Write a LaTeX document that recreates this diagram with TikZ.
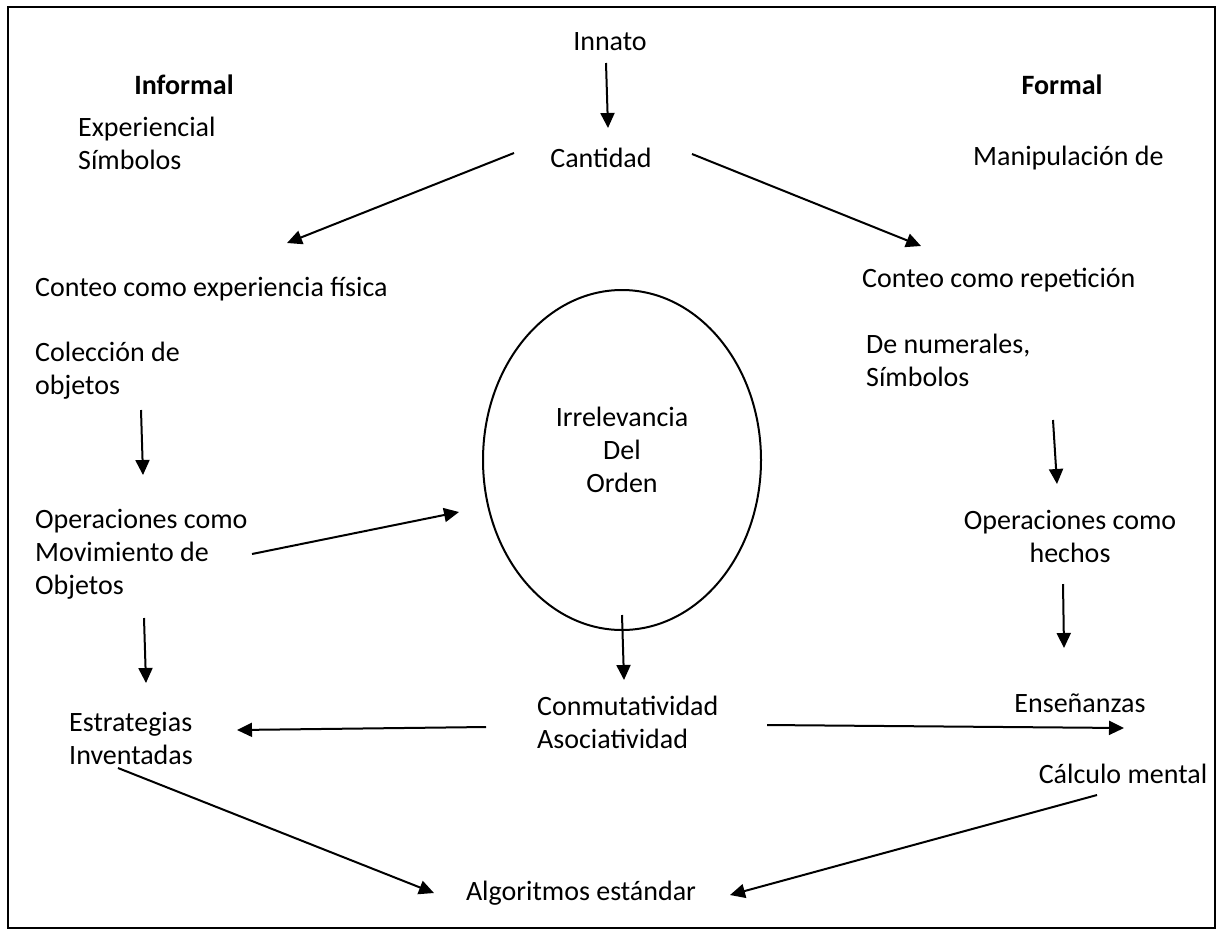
\documentclass[tikz,border=0pt]{standalone}
\usepackage{fontspec}
\setmainfont{Carlito}
\usetikzlibrary{arrows.meta,shapes.geometric}
\begin{document}
\begin{tikzpicture}[x=1pt,y=-1pt,
  txt/.style={inner sep=0pt, font=\fontsize{28}{33}\selectfont, align=left},
  ttl/.style={inner sep=0pt, font=\fontsize{28}{33}\selectfont\bfseries},
  arr/.style={line width=2pt, -{Triangle[length=15pt,width=14pt]}},
  frame/.style={line width=2pt},
  oval/.style={draw, ellipse, line width=2pt, inner sep=0pt}
]
\useasboundingbox (0,0) rectangle (1222,935);
\draw[frame] (8,7) rectangle (1215,928);

% headings
\node[ttl] (informal) at (184,85) {Informal};
\node[ttl] (formal) at (1062,85) {Formal};

% top of the scheme
\node[txt] (innato) at (610,42) {Innato};
\node[txt] (cantidad) at (601,158) {Cantidad};
\node[txt, anchor=west] (experiencial) at (78,143) {Experiencial\\Símbolos};
\node[txt, anchor=west] (manip) at (973,158) {Manipulación de};

% informal branch
\node[txt, anchor=west] (conteofis) at (35,289) {Conteo como experiencia física};
\node[txt, anchor=west] (coleccion) at (35,371) {Colección de\\objetos};
\node[txt, anchor=west] (opmov) at (35,554) {Operaciones como\\Movimiento de\\Objetos};
\node[txt, anchor=west] (estrategias) at (69,738) {Estrategias\\Inventadas};

% formal branch
\node[txt, anchor=west] (conteorep) at (862,280) {Conteo como repetición};
\node[txt, anchor=west] (numerales) at (866,360) {De numerales,\\Símbolos};
\node[txt, align=center] (ophechos) at (1070,536) {Operaciones como\\hechos};
\node[txt] (ensenanzas) at (1080,703) {Enseñanzas};
\node[txt] (calculo) at (1123,774) {Cálculo mental};

% centre
\node[oval, minimum width=278pt, minimum height=340pt] (orden) at (622,460) {};
\node[txt, align=center] (irrel) at (622,450) {Irrelevancia\\Del\\Orden};
\node[txt, anchor=west] (conmut) at (537,722) {Conmutatividad\\Asociatividad};
\node[txt] (algoritmos) at (581,893) {Algoritmos estándar};

% arrow end points
\coordinate (innato-o) at (606,63);   \coordinate (cantidad-i) at (608,128);
\coordinate (cantidad-l) at (514,153); \coordinate (conteofis-i) at (287,243);
\coordinate (cantidad-r) at (692,154); \coordinate (conteorep-i) at (921,246);
\coordinate (coleccion-o) at (141,410); \coordinate (opmov-i) at (143,475);
\coordinate (numerales-o) at (1053,420); \coordinate (ophechos-i) at (1057,484);
\coordinate (opmov-r) at (252,554); \coordinate (orden-i) at (459,512);
\coordinate (opmov-o) at (144,618); \coordinate (estrategias-i) at (146,683);
\coordinate (orden-o) at (622,615); \coordinate (conmut-i) at (624,680);
\coordinate (ophechos-o) at (1063,584); \coordinate (ensenanzas-i) at (1064,648);
\coordinate (conmut-l) at (486,727); \coordinate (estrategias-r) at (237,730);
\coordinate (conmut-r) at (767,725); \coordinate (ensenanzas-l) at (1124,728);
\coordinate (estrategias-o) at (118,768); \coordinate (algoritmos-l) at (434,893);
\coordinate (calculo-o) at (1097,795); \coordinate (algoritmos-r) at (730,895);

% connectors
\draw[arr] (innato-o) -- (cantidad-i);
\draw[arr] (cantidad-l) -- (conteofis-i);
\draw[arr] (cantidad-r) -- (conteorep-i);
\draw[arr] (coleccion-o) -- (opmov-i);
\draw[arr] (numerales-o) -- (ophechos-i);
\draw[arr] (opmov-r) -- (orden-i);
\draw[arr] (opmov-o) -- (estrategias-i);
\draw[arr] (orden-o) -- (conmut-i);
\draw[arr] (ophechos-o) -- (ensenanzas-i);
\draw[arr] (conmut-l) -- (estrategias-r);
\draw[arr] (conmut-r) -- (ensenanzas-l);
\draw[arr] (estrategias-o) -- (algoritmos-l);
\draw[arr] (calculo-o) -- (algoritmos-r);
\end{tikzpicture}
\end{document}
